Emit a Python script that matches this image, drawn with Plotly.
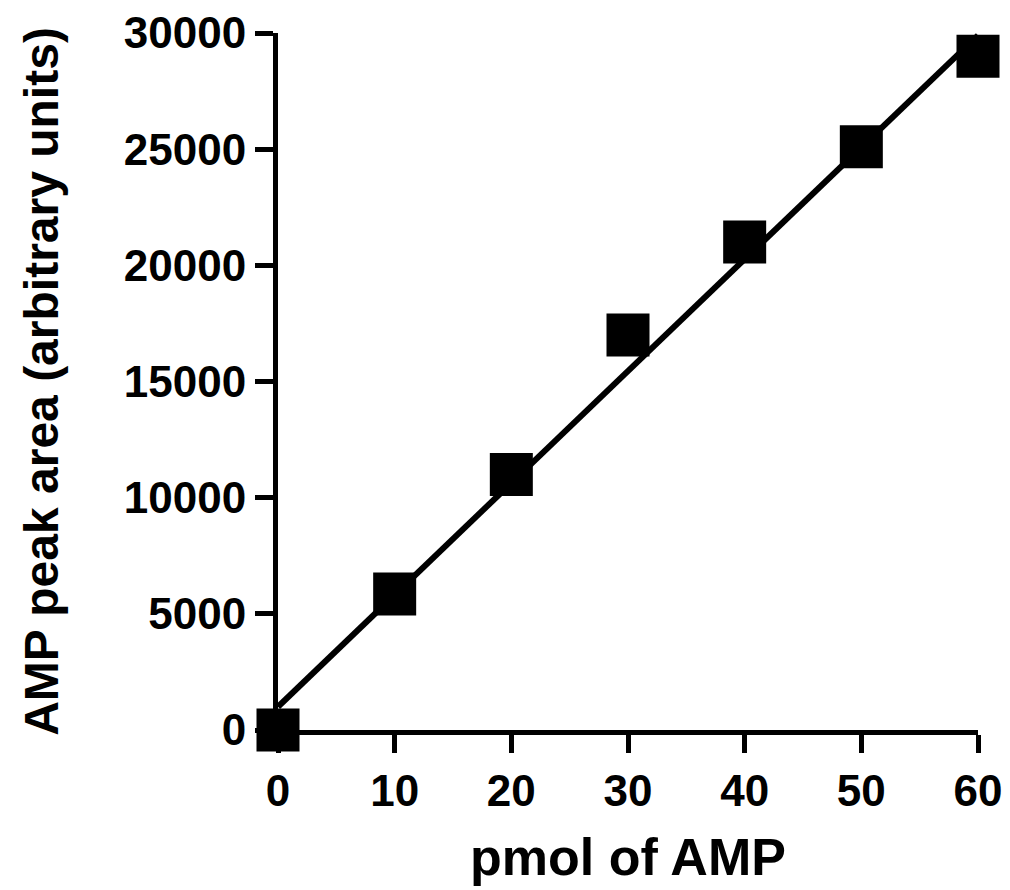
import plotly.graph_objects as go

pmol = [0, 10, 20, 30, 40, 50, 60]
peak_area = [0, 5850, 11000, 17000, 21000, 25100, 29000]
fit_x = [0, 60]
fit_y = [1000, 29900]
x_ticks = [0, 10, 20, 30, 40, 50, 60]
y_ticks = [0, 5000, 10000, 15000, 20000, 25000, 30000]

FONT = "Liberation Sans"

fig = go.Figure()
fig.add_trace(go.Scatter(x=fit_x, y=fit_y, mode="lines",
                         line=dict(color="black", width=6), cliponaxis=False,
                         showlegend=False))
fig.add_trace(go.Scatter(x=pmol, y=peak_area, mode="markers",
                         marker=dict(symbol="square", size=43, color="black",
                                     line=dict(width=0)),
                         cliponaxis=False, showlegend=False))

axis_common = dict(showline=True, linecolor="black", linewidth=5,
                   ticks="outside", ticklen=18, tickwidth=5, tickcolor="black",
                   showgrid=False, zeroline=False,
                   tickfont=dict(family=FONT, size=44, color="black", weight="bold"))

fig.update_xaxes(range=[0, 60], tickvals=x_ticks, ticktext=[str(v) for v in x_ticks],
                 title=dict(text="pmol of AMP", standoff=26,
                            font=dict(family=FONT, size=52, color="black", weight="bold")),
                 **axis_common)
fig.update_yaxes(range=[0, 30000], tickvals=y_ticks, ticktext=[str(v) for v in y_ticks],
                 title=dict(text="AMP peak area (arbitrary units)", standoff=52,
                            font=dict(family=FONT, size=48, color="black", weight="bold")),
                 **axis_common)

fig.update_layout(width=1010, height=890,
                  margin=dict(l=278, r=32, t=33, b=160, autoexpand=False),
                  plot_bgcolor="white", paper_bgcolor="white")

fig.write_html("out.html")
